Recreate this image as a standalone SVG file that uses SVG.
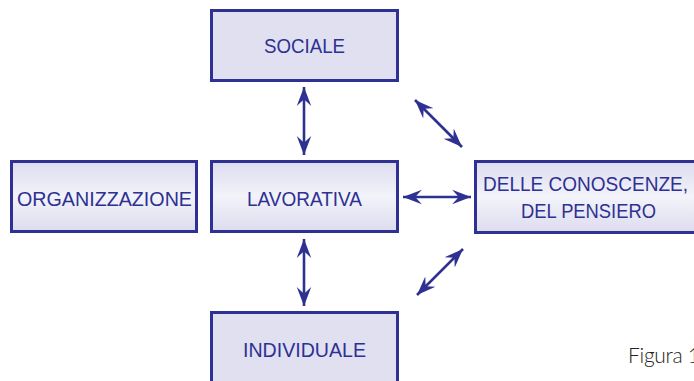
<svg xmlns="http://www.w3.org/2000/svg" width="694" height="381" viewBox="0 0 694 381">
<style>
.box{fill:#e0e0f1;stroke:#2e3192;stroke-width:3}
.grad{fill:url(#g);stroke:#2e3192;stroke-width:3}
.lbl{font-family:"Liberation Sans",Arial,sans-serif;font-size:19.5px;fill:#2e3192;text-anchor:middle}
.con{stroke:#2e3192;stroke-width:2.6;fill:none;marker-start:url(#ah);marker-end:url(#ah)}
</style>
<defs>
<linearGradient id="g" x1="0" y1="0" x2="0" y2="1">
<stop offset="0" stop-color="#dcdcef"/>
<stop offset="0.5" stop-color="#f3f3fa"/>
<stop offset="1" stop-color="#dcdcef"/>
</linearGradient>
<marker id="ah" markerUnits="userSpaceOnUse" markerWidth="20" markerHeight="16" viewBox="-17 -7 18 14" refX="0" refY="0" orient="auto-start-reverse">
<path d="M0,0 L-17,-6.5 L-11,0 L-17,6.5 Z" fill="#2e3192"/>
</marker>
</defs>
<g id="sociale"><rect class="box" x="211.5" y="10.5" width="186" height="70"/><text class="lbl" x="304.5" y="53" textLength="81" lengthAdjust="spacingAndGlyphs">SOCIALE</text></g>
<g id="organizzazione"><rect class="grad" x="11.5" y="161.5" width="185" height="70"/><text class="lbl" x="104.5" y="205.5" textLength="175" lengthAdjust="spacingAndGlyphs">ORGANIZZAZIONE</text></g>
<g id="lavorativa"><rect class="grad" x="211.5" y="161.5" width="186" height="70"/><text class="lbl" x="304.5" y="205.5" textLength="115" lengthAdjust="spacingAndGlyphs">LAVORATIVA</text></g>
<g id="conoscenze"><rect class="grad" x="475.5" y="161.5" width="240" height="71"/><text class="lbl" x="585.5" y="191" textLength="205" lengthAdjust="spacingAndGlyphs">DELLE CONOSCENZE,</text><text class="lbl" x="588.5" y="218" textLength="135" lengthAdjust="spacingAndGlyphs">DEL PENSIERO</text></g>
<g id="individuale"><rect class="box" x="211.5" y="312.5" width="186" height="80"/><text class="lbl" x="304.5" y="357" textLength="123" lengthAdjust="spacingAndGlyphs">INDIVIDUALE</text></g>
<g id="connectors">
<line class="con" x1="304" y1="87" x2="304" y2="155"/>
<line class="con" x1="304" y1="239" x2="304" y2="306"/>
<line class="con" x1="403" y1="197" x2="471" y2="197"/>
<line class="con" x1="415" y1="100" x2="462" y2="147"/>
<line class="con" x1="417" y1="295" x2="463" y2="249"/>
</g>
<text x="628" y="363" font-family="Lato,'Liberation Sans',sans-serif" font-weight="300" font-size="21" fill="#222" textLength="72" lengthAdjust="spacing">Figura 1</text>
</svg>
